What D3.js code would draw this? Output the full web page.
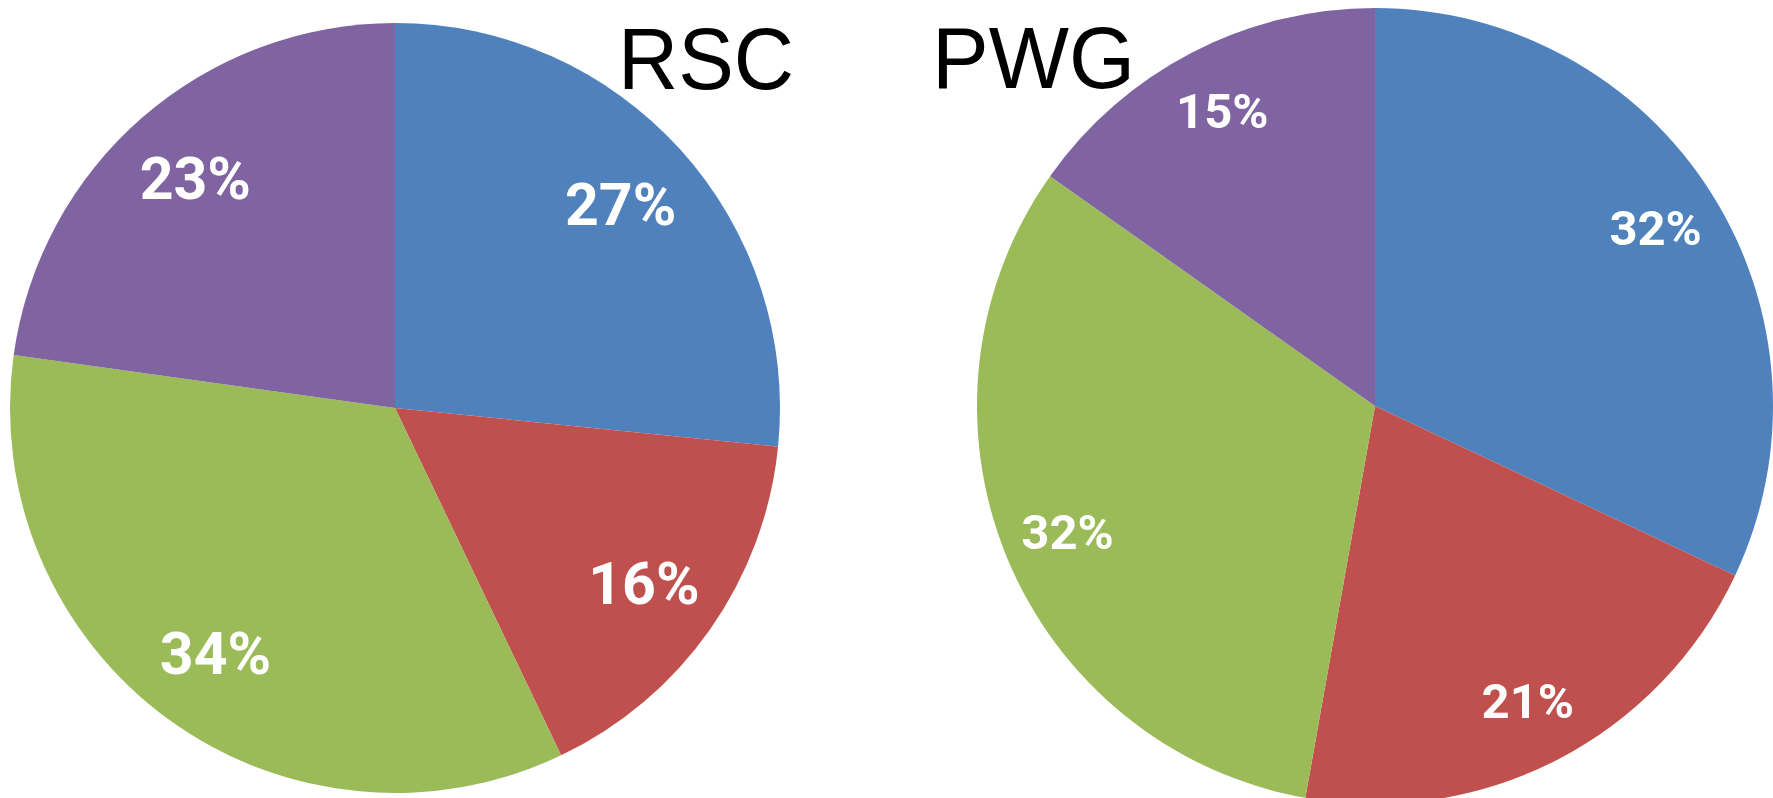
<!DOCTYPE html>
<html>
<head>
  <meta charset="utf-8">
  <title>RSC / PWG pies</title>
  <style>
    body { margin: 0; background: #fff; }
    .title { font-family: "Liberation Sans", Arial, sans-serif; fill: #000; }
    .pct { font-family: Roboto, "Noto Sans", sans-serif; font-weight: 700; fill: #fff; }
  </style>
</head>
<body>
  <div id="chart"></div>
  <script src="https://d3js.org/d3.v7.min.js"></script>
  <script>
    // slice order: blue, red, green, purple (clockwise from 12 o'clock)
    const slices = ["blue", "red", "green", "purple"];
    const sliceColors = ["#4F81BD", "#C0504D", "#9BBB59", "#8064A2"];
    const rscValues = [26.6, 16.3, 34.3, 22.8];
    const pwgValues = [32.0, 20.8, 32.0, 15.2];
    const titles = ["RSC", "PWG"];

    const width = 1773, height = 798;

    const svg = d3.select("#chart").append("svg")
      .attr("width", width)
      .attr("height", height);

    const color = d3.scaleOrdinal().domain(slices).range(sliceColors);
    const pct = d3.format(".0f");

    const pies = [
      { values: rscValues, cx: 395, cy: 408, r: 385, labelK: 0.79, fs: 59 },
      { values: pwgValues, cx: 1375, cy: 406, r: 398, labelK: 0.835, fs: 49 }
    ];

    const pie = d3.pie().sort(null).value(d => d.v);

    pies.forEach(p => {
      const g = svg.append("g").attr("transform", `translate(${p.cx},${p.cy})`);
      const arcs = pie(p.values.map((v, i) => ({ v, k: slices[i] })));
      const total = d3.sum(p.values);
      const arc = d3.arc().innerRadius(0).outerRadius(p.r);
      const lr = p.r * p.labelK;
      const labelArc = d3.arc().innerRadius(lr).outerRadius(lr);

      g.selectAll("path").data(arcs).join("path")
        .attr("d", arc)
        .attr("fill", d => color(d.data.k));

      g.selectAll("text").data(arcs).join("text")
        .attr("class", "pct")
        .attr("transform", d => `translate(${labelArc.centroid(d)})`)
        .attr("text-anchor", "middle")
        .attr("dy", "0.35em")
        .style("font-size", p.fs + "px")
        .text(d => pct(d.data.v / total * 100) + "%");
    });

    // titles sit between the two pies
    const titlePos = [
      { x: 618, y: 89, len: 176 },
      { x: 932, y: 88, len: 203 }
    ];
    titles.forEach((t, i) => {
      svg.append("text")
        .attr("class", "title")
        .attr("x", titlePos[i].x)
        .attr("y", titlePos[i].y)
        .attr("textLength", titlePos[i].len)
        .attr("lengthAdjust", "spacingAndGlyphs")
        .style("font-size", "88px")
        .text(t);
    });
  </script>
</body>
</html>
